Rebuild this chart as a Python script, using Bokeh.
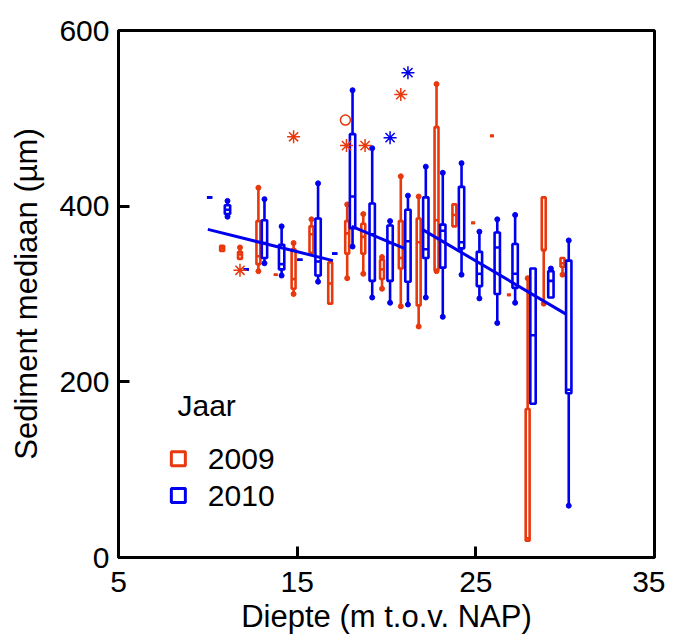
from bokeh.plotting import figure
from bokeh.models import Range1d, FixedTicker
from bokeh.embed import file_html
from bokeh.resources import INLINE
from bokeh.core.properties import value

# ---- 2009 (red) box statistics per depth class ----
x09  = [10.8, 11.8, 12.83, 13.8, 14.8, 15.8, 16.85, 17.8, 18.7, 19.75, 20.8, 21.8, 22.8, 23.8, 24.85, 25.9, 26.85, 27.9, 28.8, 29.85]
lo09 = [349, 340, 326, 322, 300, 347, 289, 318, 323, 306, 286, 263, 326, 377, 381, 480, 299, 19, 289, 322]
q109 = [349, 340, 334, 322, 306, 347, 289, 346, 346, 317, 329, 287, 327, 377, 381, 480, 299, 19, 350, 331]
md09 = [352, 345, 343, 322, 317, 368, 312, 369, 365, 328, 341, 359, 384, 390, 381, 480, 299, 22, 350, 335]
q309 = [355, 348, 383, 322, 351, 377, 336, 383, 380, 339, 383, 386, 490, 402, 381, 480, 299, 169, 410, 341]
hi09 = [355, 353, 421, 322, 358, 385, 336, 402, 391, 342, 434, 411, 539, 402, 381, 480, 299, 318, 410, 341]

# ---- 2010 (blue) box statistics per depth class ----
x10  = [10.1, 11.1, 12.15, 13.17, 14.13, 15.15, 16.17, 17.1, 18.1, 19.2, 20.2, 21.2, 22.2, 23.15, 24.2, 25.2, 26.2, 27.2, 28.2, 29.2, 30.2]
lo10 = [410, 388, 328, 335, 321, 339, 314, 346, 354, 296, 290, 288, 296, 274, 322, 295, 267, 290, 175, 296, 59]
q110 = [410, 391, 328, 341, 328, 339, 321, 346, 375, 315, 315, 314, 341, 330, 352, 309, 300, 307, 175, 296, 187]
md10 = [410, 396, 328, 358, 334, 339, 337, 346, 411, 368, 358, 360, 351, 372, 359, 323, 353, 323, 253, 315, 191]
q310 = [410, 401, 328, 384, 356, 339, 386, 346, 482, 403, 378, 396, 410, 379, 422, 348, 370, 357, 329, 326, 338]
hi10 = [410, 406, 328, 408, 377, 339, 426, 346, 532, 466, 383, 412, 445, 438, 449, 371, 385, 390, 329, 329, 361]

# ---- outliers ----
ast09_x = [11.8, 14.8, 17.76, 18.8, 20.8]
ast09_y = [327, 479, 469, 469, 527]
circ09_x = [17.7]
circ09_y = [498]
ast10_x = [20.2, 21.2]
ast10_y = [478, 552]

# ---- regression lines (2010) ----
reg_x0 = [10.0, 18.05, 22.0]
reg_y0 = [373.6, 377.0, 373.6]
reg_x1 = [17.0, 21.0, 30.07]
reg_y1 = [338.0, 352.0, 276.8]

# ---- legend ----
legend_title = "Jaar"
legend_labels = ["2009", "2010"]

RED = "#E8380D"
BLUE = "#0000EE"
FONT = "Liberation Sans"

p = figure(width=665, height=636, output_backend="svg", toolbar_location=None,
           x_range=Range1d(5, 35), y_range=Range1d(0, 600),
           min_border_left=118, min_border_right=11, min_border_top=30, min_border_bottom=79)
p.xgrid.visible = False
p.ygrid.visible = False
p.outline_line_color = "black"
p.outline_line_width = 3
p.background_fill_color = "white"
p.border_fill_color = "white"

for ax in (p.xaxis[0], p.yaxis[0]):
    ax.axis_line_width = 3
    ax.axis_line_color = "black"
    ax.major_tick_in = 11
    ax.major_tick_out = 0
    ax.major_tick_line_width = 3
    ax.minor_tick_line_color = None
    ax.major_label_text_font = FONT
    ax.major_label_text_font_size = "30px"
    ax.major_label_text_color = "black"
    ax.axis_label_text_font = FONT
    ax.axis_label_text_font_size = "31px"
    ax.axis_label_text_font_style = "normal"
    ax.axis_label_text_color = "black"

p.xaxis.ticker = FixedTicker(ticks=[5, 15, 25, 35])
p.yaxis.ticker = FixedTicker(ticks=[0, 200, 400, 600])
p.xaxis.axis_label = "Diepte (m t.o.v. NAP)"
p.yaxis.axis_label = "Sediment mediaan (µm)"
p.xaxis.major_label_standoff = 14
p.xaxis.axis_label_standoff = 4
p.yaxis.major_label_standoff = 9
p.yaxis.axis_label_standoff = 12


def draw_boxes(xs, lo, q1, md, q3, hi, color, w):
    p.vbar(x=xs, width=w, bottom=q1, top=q3, fill_alpha=0, line_color=color, line_width=2.6)
    # medians
    p.segment(x0=[x - w / 2 for x in xs], x1=[x + w / 2 for x in xs], y0=md, y1=md,
              line_color=color, line_width=2.6)
    # whiskers
    ux, u0, u1 = [], [], []
    for x, a, b in zip(xs, q3, hi):
        if b > a:
            ux.append(x); u0.append(a); u1.append(b)
    lx, l0, l1 = [], [], []
    for x, a, b in zip(xs, lo, q1):
        if a < b:
            lx.append(x); l0.append(a); l1.append(b)
    p.segment(x0=ux, x1=ux, y0=u0, y1=u1, line_color=color, line_width=2.6)
    p.segment(x0=lx, x1=lx, y0=l0, y1=l1, line_color=color, line_width=2.6)
    p.scatter(x=ux + lx, y=u1 + l0, marker="circle", size=5, fill_color=color, line_color=color)


draw_boxes(x09, lo09, q109, md09, q309, hi09, RED, 0.22)
draw_boxes(x10, lo10, q110, md10, q310, hi10, BLUE, 0.3)

p.scatter(x=ast09_x, y=ast09_y, marker="asterisk", size=13, line_color=RED, line_width=1.5)
p.scatter(x=circ09_x, y=circ09_y, marker="circle", size=10, fill_alpha=0, line_color=RED, line_width=1.5)
p.scatter(x=ast10_x, y=ast10_y, marker="asterisk", size=13, line_color=BLUE, line_width=1.5)

p.segment(x0=reg_x0, y0=reg_y0, x1=reg_x1, y1=reg_y1, line_color=BLUE, line_width=3)

# legend (manual)
p.text(x=[8.3], y=[173], text=[legend_title], text_font=value(FONT), text_font_size="30px",
       text_baseline="middle", text_align="left", text_color="black")
p.scatter(x=[8.35, 8.35], y=[112.5, 70.5], marker="square", size=14, fill_alpha=0,
          line_color=[RED, BLUE], line_width=3)
p.text(x=[10.0, 10.0], y=[112, 70], text=legend_labels, text_font=value(FONT), text_font_size="30px",
       text_baseline="middle", text_align="left", text_color="black")

open("out.html", "w").write(file_html(p, INLINE))
